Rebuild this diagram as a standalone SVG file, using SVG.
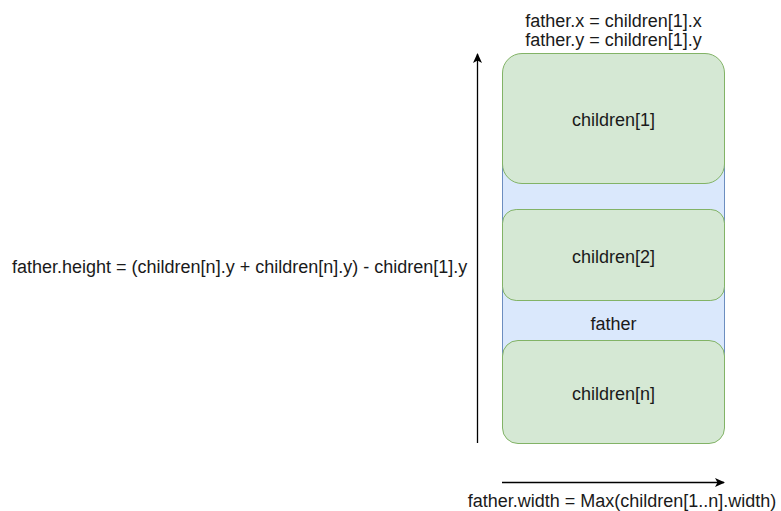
<svg xmlns="http://www.w3.org/2000/svg" width="781" height="511" viewBox="0 0 781 511">
  <defs>
    <marker id="arrow" viewBox="0 0 10 10" refX="9" refY="5" markerWidth="10" markerHeight="10" markerUnits="userSpaceOnUse" orient="auto">
      <path d="M0,0.5 L10,5 L0,9.5 L2.5,5 Z" fill="#000"/>
    </marker>
  </defs>
  <style>
    text { font-family: "Liberation Sans", Arial, sans-serif; font-size: 18px; fill: #1a1a1a; }
    .mid { text-anchor: middle; }
    .father { fill: #dae8fc; stroke: #6c8ebf; stroke-width: 1; }
    .child { fill: #d5e8d4; stroke: #82b366; stroke-width: 1; }
    .conn { stroke: #000; stroke-width: 1.3; fill: none; }
  </style>
  <rect width="781" height="511" fill="#fff"/>

  <g id="father">
    <rect class="father" x="502.5" y="80" width="222" height="340"/>
    <text class="mid" x="613.5" y="329.5">father</text>
  </g>

  <g id="children-1">
    <rect class="child" x="502.5" y="53.5" width="222" height="130" rx="19.5" ry="19.5"/>
    <text class="mid" x="613.5" y="125.5">children[1]</text>
  </g>

  <g id="children-2">
    <rect class="child" x="502.5" y="209.5" width="222" height="91" rx="13.7" ry="13.7"/>
    <text class="mid" x="613.5" y="262.5">children[2]</text>
  </g>

  <g id="children-n">
    <rect class="child" x="502.5" y="340.5" width="222" height="103" rx="15.5" ry="15.5"/>
    <text class="mid" x="613.5" y="399.5">children[n]</text>
  </g>

  <g id="connectors">
    <line class="conn" x1="477.5" y1="443" x2="477.5" y2="54" marker-end="url(#arrow)"/>
    <line class="conn" x1="502" y1="482.5" x2="724" y2="482.5" marker-end="url(#arrow)"/>
  </g>

  <g id="labels">
    <text class="mid" x="613.5" y="26.5">father.x = children[1].x</text>
    <text class="mid" x="613.5" y="45.5">father.y = children[1].y</text>
    <text x="12" y="272.5">father.height = (children[n].y + children[n].y) - chidren[1].y</text>
    <text class="mid" x="622" y="506.5">father.width = Max(children[1..n].width)</text>
  </g>
</svg>
